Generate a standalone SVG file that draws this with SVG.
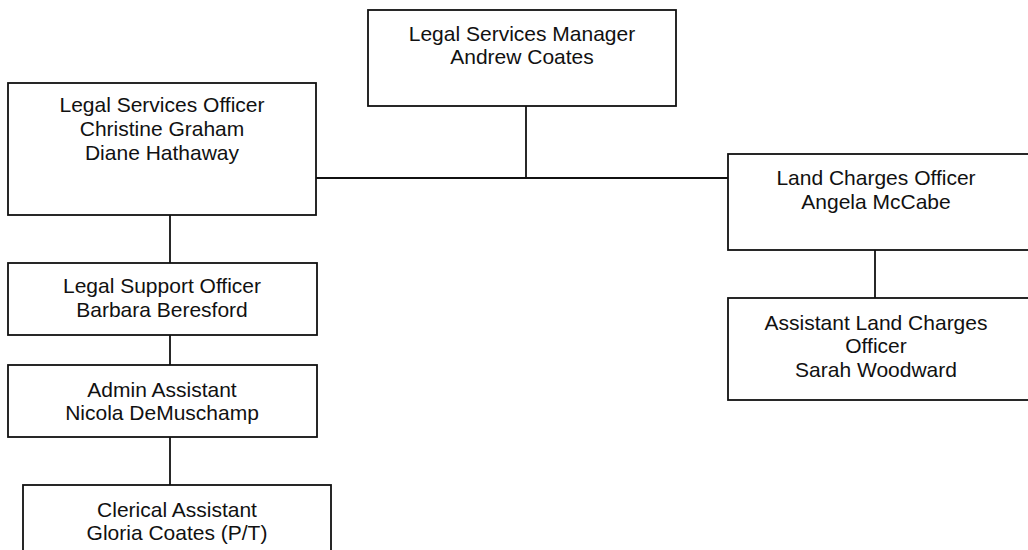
<svg xmlns="http://www.w3.org/2000/svg" width="1028" height="550" viewBox="0 0 1028 550">
  <style>
    .box { fill: #ffffff; stroke: #111111; stroke-width: 1.8; }
    .link { fill: none; stroke: #111111; stroke-width: 1.8; }
    text { font-family: "Liberation Sans", Arial, sans-serif; font-size: 21px; fill: #111111; text-anchor: middle; }
  </style>
  <rect width="1028" height="550" fill="#ffffff"/>

  <!-- reporting lines -->
  <g id="connectors">
    <path class="link" d="M526 106 V178"/>
    <path class="link" d="M316 178 H728"/>
    <path class="link" d="M170 215 V263"/>
    <path class="link" d="M170 335 V365"/>
    <path class="link" d="M170 437 V485"/>
    <path class="link" d="M875 250 V298"/>
  </g>

  <g id="legal-services-manager">
    <rect class="box" x="368" y="10" width="308" height="96"/>
    <text x="522" y="41">Legal Services Manager</text>
    <text x="522" y="64">Andrew Coates</text>
  </g>

  <g id="legal-services-officer">
    <rect class="box" x="8" y="83" width="308" height="132"/>
    <text x="162" y="112">Legal Services Officer</text>
    <text x="162" y="136">Christine Graham</text>
    <text x="162" y="160">Diane Hathaway</text>
  </g>

  <g id="land-charges-officer">
    <rect class="box" x="728" y="154" width="310" height="96"/>
    <text x="876" y="185">Land Charges Officer</text>
    <text x="876" y="209">Angela McCabe</text>
  </g>

  <g id="assistant-land-charges-officer">
    <rect class="box" x="728" y="298" width="310" height="102"/>
    <text x="876" y="330">Assistant Land Charges</text>
    <text x="876" y="353">Officer</text>
    <text x="876" y="377">Sarah Woodward</text>
  </g>

  <g id="legal-support-officer">
    <rect class="box" x="8" y="263" width="309" height="72"/>
    <text x="162" y="293">Legal Support Officer</text>
    <text x="162" y="317">Barbara Beresford</text>
  </g>

  <g id="admin-assistant">
    <rect class="box" x="8" y="365" width="309" height="72"/>
    <text x="162" y="397">Admin Assistant</text>
    <text x="162" y="420">Nicola DeMuschamp</text>
  </g>

  <g id="clerical-assistant">
    <rect class="box" x="23" y="485" width="308" height="80"/>
    <text x="177" y="517">Clerical Assistant</text>
    <text x="177" y="540">Gloria Coates (P/T)</text>
  </g>
</svg>
